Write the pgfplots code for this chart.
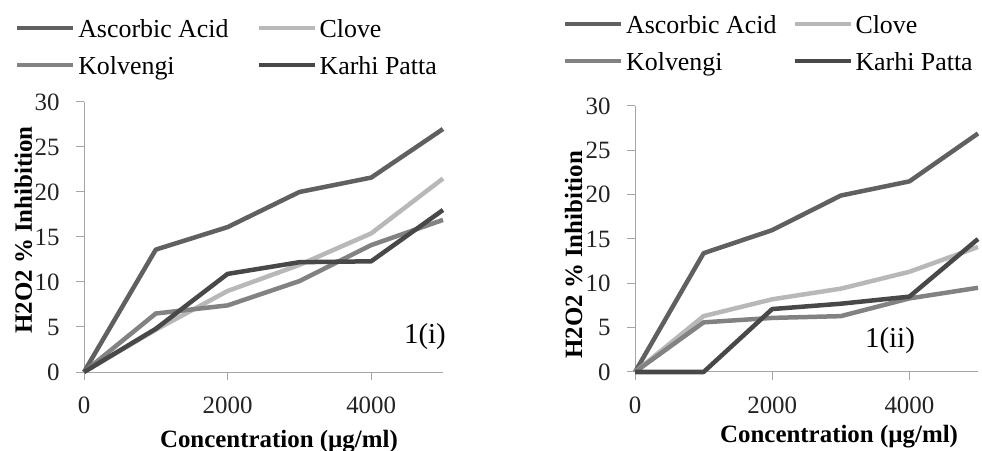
\documentclass[border=0pt]{standalone}
\usepackage{fontspec}
\setmainfont{Liberation Serif}
\usepackage{pgfplots}
\pgfplotsset{compat=1.18}
\definecolor{cAsc}{RGB}{96,96,96}
\definecolor{cClo}{RGB}{184,184,184}
\definecolor{cKol}{RGB}{130,130,130}
\definecolor{cKar}{RGB}{72,72,72}
\definecolor{axgray}{RGB}{165,165,165}
\definecolor{tickc}{RGB}{35,35,35}
\pgfplotsset{
  base/.style={
    scale only axis,
    xmin=0,xmax=5000,ymin=0,ymax=30,
    axis x line*=bottom, axis y line*=left,
    axis line style={draw=axgray, line width=1bp},
    xtick={0,2000,4000}, ytick={0,5,...,30},
    scaled x ticks=false,
    tick align=outside, major tick length=8bp,
    every tick/.style={draw=axgray, line width=1bp},
    /pgf/number format/assume math mode=true,
    /pgf/number format/1000 sep={},
    ticklabel style={font=\fontsize{25}{25}\selectfont, text=tickc},
    xticklabel style={yshift=-13bp},
    yticklabel style={xshift=-13bp},
    label style={font=\bfseries\fontsize{25}{25}\selectfont},
    every axis plot/.append style={line width=4.5bp, line join=round, mark=none},
    clip=false,
    legend columns=2,
    legend cell align=left,
    legend image code/.code={\draw[##1, line width=4bp, line cap=butt] (0bp,0.3em) -- (56bp,0.3em);},
    legend style={draw=none, fill=none, inner sep=0pt,
      font=\fontsize{26}{26}\selectfont,
      nodes={inner sep=0pt, text height=18bp, text depth=5bp},
      row sep=14bp,
      /tikz/every odd column/.append style={column sep=3bp}},
  }
}
\begin{document}
\begin{tikzpicture}
\useasboundingbox (0,0) rectangle (982bp,451bp);
% ---------- panel 1(i)
\begin{axis}[base,
  at={(84bp,79bp)}, anchor=south west,
  width=359bp, height=270bp,
  xlabel={Concentration (µg/ml)},
  ylabel={H2O2 \% Inhibition},
  xlabel style={at={(axis description cs:0.543,-0.278)}, anchor=base},
  ylabel style={at={(axis description cs:-0.145,0.526)}, anchor=base},
  legend style={at={(axis description cs:-0.192,1.307)}, anchor=north west,
    /tikz/column 2/.style={column sep=28bp}},
]
\addplot[cAsc] coordinates {(0,0) (1000,13.6) (2000,16.1) (3000,20.0) (4000,21.6) (5000,27.0)};
\addlegendentry{Ascorbic Acid}
\addplot[cClo] coordinates {(0,0) (1000,4.7) (2000,9.0) (3000,11.9) (4000,15.4) (5000,21.5)};
\addlegendentry{Clove}
\addplot[cKol] coordinates {(0,0) (1000,6.5) (2000,7.4) (3000,10.1) (4000,14.1) (5000,16.9)};
\addlegendentry{Kolvengi}
\addplot[cKar] coordinates {(0,0) (1000,4.8) (2000,10.9) (3000,12.2) (4000,12.3) (5000,18.0)};
\addlegendentry{Karhi Patta}
\node[font=\fontsize{29}{29}\selectfont] at (axis cs:4749,3.9) {1(i)};
\end{axis}
% ---------- panel 1(ii)
\begin{axis}[base,
  at={(635bp,79bp)}, anchor=south west,
  width=343bp, height=266bp,
  xlabel={Concentration (µg/ml)},
  ylabel={H2O2 \% Inhibition},
  xlabel style={at={(axis description cs:0.595,-0.266)}, anchor=base},
  ylabel style={at={(axis description cs:-0.1545,0.44)}, anchor=base},
  legend style={at={(axis description cs:-0.21,1.342)}, anchor=north west,
    /tikz/column 2/.style={column sep=16bp}},
]
\addplot[cAsc] coordinates {(0,0) (1000,13.4) (2000,16.0) (3000,19.9) (4000,21.5) (5000,26.9)};
\addlegendentry{Ascorbic Acid}
\addplot[cClo] coordinates {(0,0) (1000,6.3) (2000,8.2) (3000,9.4) (4000,11.3) (5000,14.1)};
\addlegendentry{Clove}
\addplot[cKol] coordinates {(0,0) (1000,5.6) (2000,6.1) (3000,6.3) (4000,8.3) (5000,9.5)};
\addlegendentry{Kolvengi}
\addplot[cKar] coordinates {(0,0) (1000,0) (2000,7.1) (3000,7.7) (4000,8.5) (5000,15.0)};
\addlegendentry{Karhi Patta}
\node[font=\fontsize{29}{29}\selectfont] at (axis cs:3717,3.6) {1(ii)};
\end{axis}
\end{tikzpicture}
\end{document}
